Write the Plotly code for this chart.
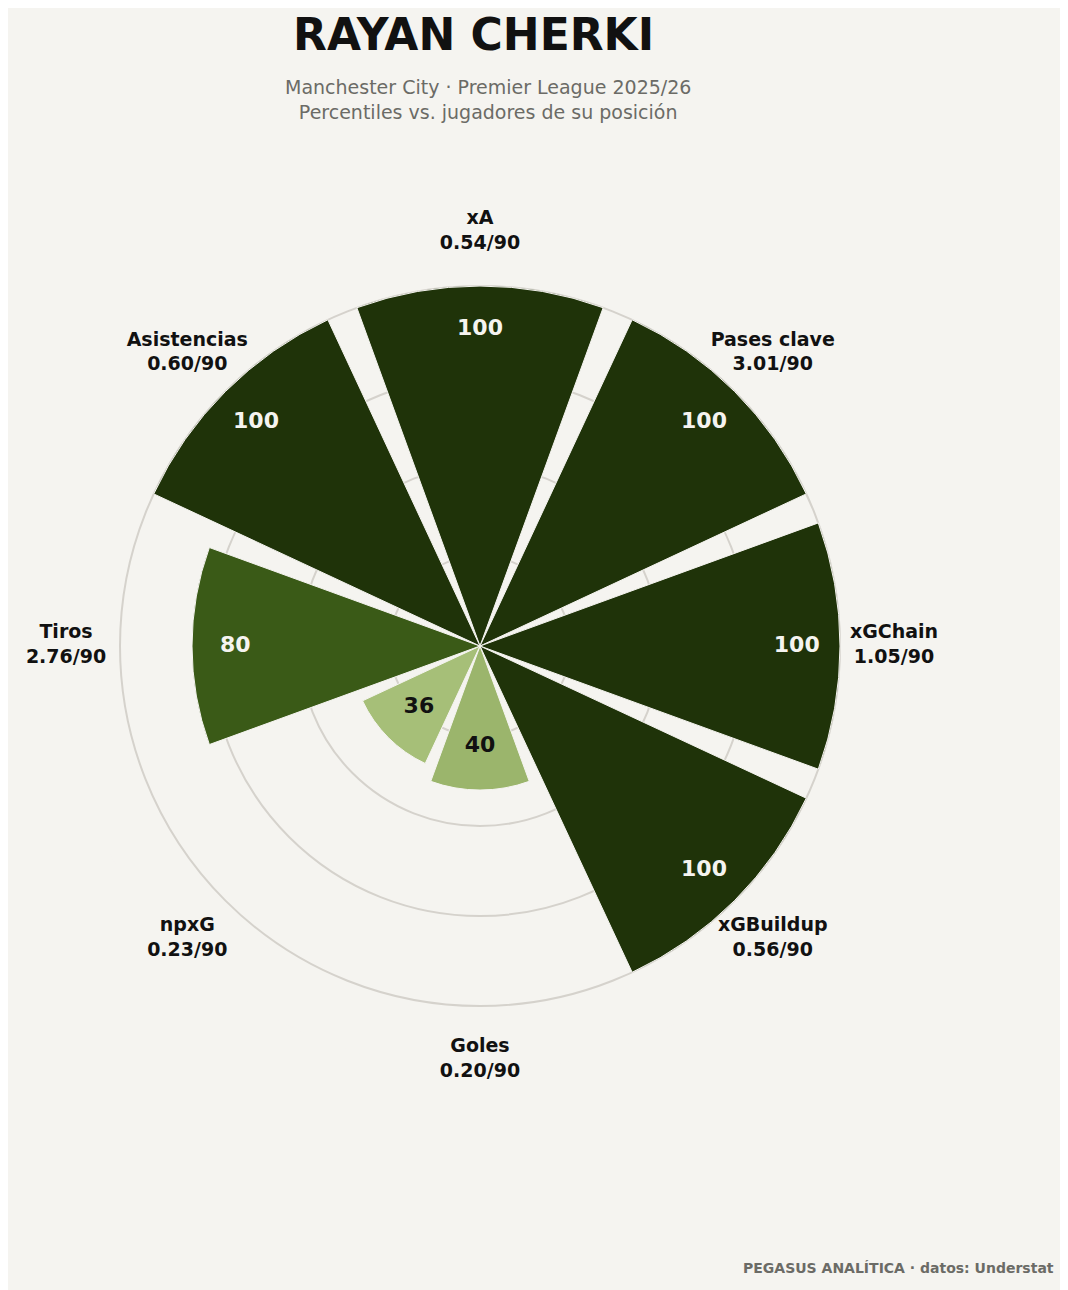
import plotly.graph_objects as go

categories = ["xA", "Pases clave", "xGChain", "xGBuildup", "Goles", "npxG", "Tiros", "Asistencias"]
per90 = ["0.54/90", "3.01/90", "1.05/90", "0.56/90", "0.20/90", "0.23/90", "2.76/90", "0.60/90"]
percentiles = [100, 100, 100, 100, 40, 36, 80, 100]
colors = ["#1f3309", "#1f3309", "#1f3309", "#1f3309", "#9bb56c", "#a6bf78", "#3a5a17", "#1f3309"]

bg = "#f5f4f0"
angles = [i * 45 for i in range(len(categories))]

fig = go.Figure()
fig.add_trace(go.Barpolar(
    r=percentiles, theta=angles, width=[40] * 8,
    marker=dict(color=colors, line=dict(color=bg, width=1)),
    hoverinfo="skip",
))
# value labels inside the bars
fig.add_trace(go.Scatterpolar(
    r=[p - 12 for p in percentiles], theta=angles, mode="text",
    text=[f"<b>{p}</b>" for p in percentiles],
    textfont=dict(size=22, family="DejaVu Sans",
                  color=["#f5f4f0" if p >= 80 else "#111111" for p in percentiles]),
    hoverinfo="skip",
))
# category labels outside
fig.add_trace(go.Scatterpolar(
    r=[115] * 8, theta=angles, mode="text", cliponaxis=False,
    text=[f"<b>{c}<br>{v}</b>" for c, v in zip(categories, per90)],
    textfont=dict(size=19, family="DejaVu Sans", color="#111111"),
    hoverinfo="skip",
))

fig.update_layout(
    width=1068, height=1290, paper_bgcolor=bg, plot_bgcolor=bg,
    margin=dict(l=0, r=0, t=0, b=0), showlegend=False,
    polar=dict(
        bgcolor=bg,
        domain=dict(x=[0.0442, 0.8397], y=[0.1761, 0.8347]),
        radialaxis=dict(range=[0, 118], tickvals=[25, 50, 75, 100], showticklabels=False,
                        gridcolor="#d5d2cc", gridwidth=1.5, showline=False, ticks=""),
        angularaxis=dict(rotation=90, direction="clockwise", showgrid=False,
                         showticklabels=False, showline=False, ticks=""),
    ),
    annotations=[
        dict(text="<b>RAYAN CHERKI</b>", x=465, y=27, showarrow=False,
             font=dict(size=44, family="DejaVu Sans", color="#111111")),
        dict(text="Manchester City · Premier League 2025/26<br>Percentiles vs. jugadores de su posición",
             x=480, y=92, showarrow=False,
             font=dict(size=19, family="DejaVu Sans", color="#6b6b66")),
        dict(text="<b>PEGASUS ANALÍTICA · datos: Understat</b>", x=1048, y=1260,
             xanchor="right", showarrow=False,
             font=dict(size=14, family="DejaVu Sans", color="#6b6b66")),
    ],
)
# convert pixel positions of annotations to paper coordinates
for a in fig.layout.annotations:
    a.x = a.x / 1068
    a.y = 1 - a.y / 1290
    a.xref = "paper"
    a.yref = "paper"
    if a.xanchor is None:
        a.xanchor = "center"
    a.yanchor = "middle"

fig.write_html("out.html")
